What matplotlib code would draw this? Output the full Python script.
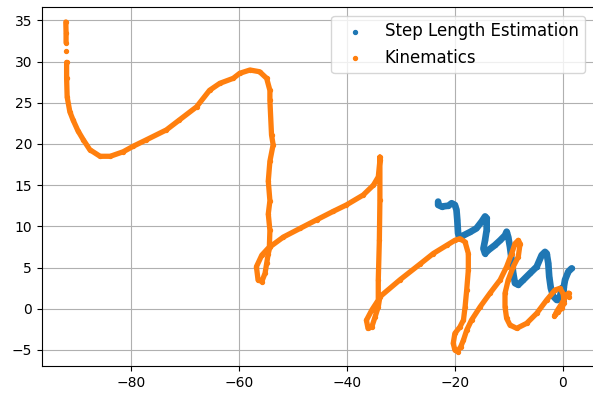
import numpy as np
import matplotlib
matplotlib.use("Agg")
import matplotlib.pyplot as plt

nan = np.nan

# Step length estimation trajectory (x, y)
step_x = [-23.1, -23.1, -22.45, -21.2, -20.6, -20.0, -19.7, -19.55, -19.4, -19.05,
          -18.4, -17.2, -16.0, -15.0, -14.4, -14.1, -14.1, -14.4, -14.7, -14.4,
          -13.8, -12.6, -11.6, -10.7, -10.4, -10.1, -9.78, -9.46, -9.17, -8.85,
          -8.24, -7.3, -6.07, -4.82, -3.9, -3.28, -2.97, -2.67, -2.5, -2.2,
          -1.74, -1.11, -0.7, -0.5, -0.19, 0.1, 0.2, 0.43, 1.04, 1.67]
step_y = [13.0, 12.6, 12.4, 12.5, 12.8, 12.6, 12.0, 10.8, 9.15, 8.55,
          8.9, 9.3, 9.75, 10.6, 11.2, 11.0, 9.55, 8.3, 7.3, 6.7,
          7.1, 7.7, 8.3, 8.9, 9.35, 8.7, 7.5, 5.9, 4.3, 3.1,
          2.9, 3.5, 4.3, 5.1, 6.5, 6.9, 6.7, 5.5, 3.9, 2.5,
          1.5, 1.06, 1.1, 1.46, 2.48, 0.8, 2.6, 3.5, 4.5, 4.9]

# Kinematics trajectory (x, y); NaN marks breaks in the recorded track
kin_x = [-92.15, -92.1, -92.1, nan, -92.05, nan, -92.0, -92.0, -91.9, -91.4,
         -90.8, -89.9, -88.9, -87.7, -85.8, -83.9, -81.5, -79.7, -77.2, -73.5,
         -71.1, -67.9, -65.5, -63.6, -61.1, -59.9, -58.0, -56.2, -54.9, -54.3,
         -54.3, -54.0, -53.7, -54.3, -54.6, -54.3, -54.6, -54.3, -54.4,
         -55.8, -56.8, -56.5, -55.8, -55.2, -54.9, -54.6, -54.3,
         -51.8, -48.7, -45.6, -42.6, -40.1, -37.0, -35.1, -34.2, -33.9, -33.9,
         -33.9, -34.0, -34.2, -34.2,
         -35.4, -36.4, -36.1, -35.4, -34.8, -34.2,
         -33.9, -30.2, -26.5, -24.0, -21.5, -20.0, -19.05, -18.1, -17.5, -17.5,
         -17.8, -18.1, -18.4, -19.05, -20.0, -20.3, -20.0, -19.5, -18.9, -18.4,
         -17.8, -16.9, -15.3, -13.5, -11.6, -10.4, -9.46, -8.85, -8.24, -7.9,
         -8.24, -9.17, -10.1, -10.7, -10.7, -10.4, -9.78, -8.53, -6.68, -4.82,
         -2.97, -1.43, -0.5, 0.11, 0.24, -0.13, -0.87, -1.52, -1.06, -0.13,
         0.61, 1.08, 1.17]
kin_y = [34.8, 33.5, 32.3, nan, 31.3, nan, 29.9, 28.0, 25.7, 23.9,
         22.9, 21.6, 20.5, 19.3, 18.5, 18.5, 19.05, 19.7, 20.5, 21.7,
         22.9, 24.5, 26.5, 27.35, 27.96, 28.57, 28.97, 28.76, 27.96, 26.5,
         25.3, 21.1, 19.9, 17.9, 15.5, 13.1, 11.5, 9.5, 7.5,
         6.5, 5.1, 3.5, 3.3, 4.3, 5.5, 6.7, 7.5,
         8.7, 9.75, 10.8, 11.8, 12.6, 13.8, 15.0, 16.0, 18.0, 18.4,
         13.2, 8.3, 3.5, 1.05,
         -0.16, -1.4, -2.4, -2.2, -1.0, 0.24,
         1.45, 3.5, 5.4, 6.7, 7.7, 8.3, 8.5, 8.1, 6.7, 4.7,
         2.3, 0.24, -1.37, -2.2, -3.0, -4.2, -5.0, -5.2, -4.6, -3.8,
         -2.6, -1.37, 0.24, 1.87, 3.5, 5.1, 6.7, 7.9, 8.3, 7.9,
         6.3, 5.1, 3.5, 1.87, 0.24, -1.17, -1.98, -2.38, -1.77, -0.56,
         1.06, 2.27, 2.48, 1.78, 0.69, 0.09, -0.4, -0.89, -0.28, 0.69,
         1.54, 1.9, 1.42]

x_ticks = [-80, -60, -40, -20, 0]
y_ticks = [-5, 0, 5, 10, 15, 20, 25, 30, 35]

blue = "#1f77b4"
orange = "#ff7f0e"

fig = plt.figure(figsize=(5.93, 4.01), dpi=100)
ax = fig.add_axes([0.0705, 0.0873, 0.9305, 0.8945])

# dense tracks drawn as thick paths, with the samples as scatter points
ax.plot(step_x, step_y, color=blue, lw=4.8, solid_capstyle="round",
        solid_joinstyle="round", zorder=2)
ax.scatter(step_x, step_y, s=8, color=blue, label="Step Length Estimation", zorder=2)
ax.plot(kin_x, kin_y, color=orange, lw=3.8, solid_capstyle="round",
        solid_joinstyle="round", zorder=3)
ax.scatter(kin_x, kin_y, s=8, color=orange, label="Kinematics", zorder=3)

ax.set_xlim(-96.6, 5.73)
ax.set_ylim(-6.95, 36.58)
ax.set_xticks(x_ticks)
ax.set_yticks(y_ticks)
ax.grid(True)
ax.legend(loc="upper right", fontsize=12)

fig.savefig("out.png", dpi=100)
